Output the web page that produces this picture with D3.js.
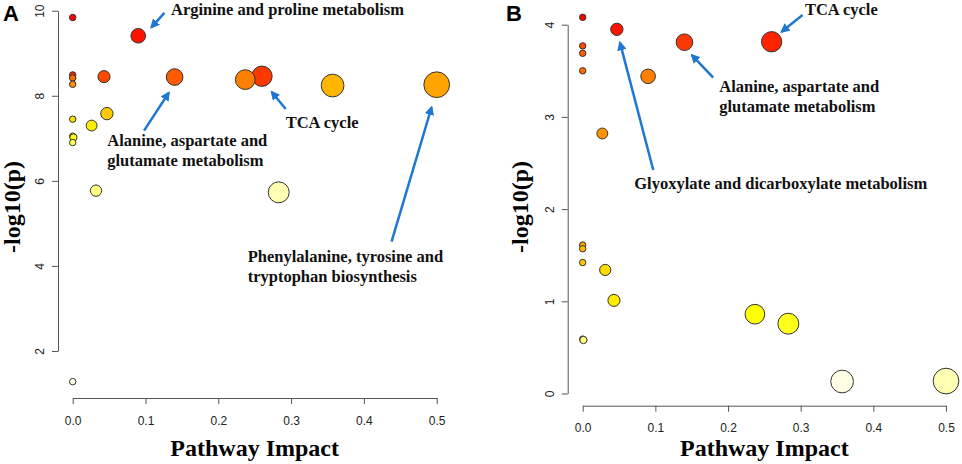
<!DOCTYPE html>
<html>
<head>
<meta charset="utf-8">
<script src="https://cdn.jsdelivr.net/npm/d3@7"></script>
<style>
    body { margin: 0; background: #fff; }
    svg { display: block; }
    .tick text { font-family: "Liberation Sans", Arial, sans-serif; font-size: 12px; fill: #222; }
    .axis path, .axis line { stroke: #555; stroke-width: 1; }
    .note { font-family: "Liberation Serif", "Times New Roman", serif; font-weight: bold; font-size: 16.5px; fill: #111; }
    .title { font-family: "Liberation Serif", "Times New Roman", serif; font-weight: bold; font-size: 24px; fill: #000; }
    .panel { font-family: "Liberation Sans", Arial, sans-serif; font-weight: bold; font-size: 22px; fill: #000; }
</style>
</head>
<body>
<div id="chart"></div>
<script>
// panel A: pathway impact and -log10(p)
var impactA = [0, 0.090, 0, 0, 0, 0.043, 0.140, 0.237, 0.260, 0.357, 0.500, 0, 0.026, 0.047, 0, 0.001, 0, 0.032, 0.283, 0];
var logpA = [9.84, 9.41, 8.49, 8.42, 8.27, 8.45, 8.44, 8.38, 8.46, 8.24, 8.26, 7.45, 7.30, 7.58, 7.05, 7.02, 6.90, 5.77, 5.73, 1.28];

// panel B
var impactB = [0, 0.047, 0, 0, 0, 0.140, 0.260, 0.090, 0.027, 0, 0, 0, 0.031, 0.043, 0.001, 0, 0.237, 0.283, 0.357, 0.500];
var logpB = [4.08, 3.95, 3.77, 3.69, 3.50, 3.81, 3.815, 3.44, 2.82, 1.61, 1.57, 1.42, 1.34, 1.01, 0.58, 0.59, 0.86, 0.757, 0.13, 0.135];

var xTicks = [0, 0.1, 0.2, 0.3, 0.4, 0.5];
var yTicksA = [2, 4, 6, 8, 10];
var yTicksB = [0, 1, 2, 3, 4];

// labelled pathways: text lines, text anchor and arrow (tail -> head), in data units
var notesA = [
    { lines: ["Arginine and proline metabolism"], at: [0.135, 9.91], from: [0.126, 9.95], to: [0.108, 9.61] },
    { lines: ["Alanine, aspartate and", "glutamate metabolism"], at: [0.0475, 6.83], from: [0.098, 7.18], to: [0.132, 8.07] },
    { lines: ["TCA cycle"], at: [0.2926, 7.235], from: [0.2926, 7.69], to: [0.2734, 8.09] },
    { lines: ["Phenylalanine, tyrosine and", "tryptophan biosynthesis"], at: [0.2404, 4.085], from: [0.438, 4.57], to: [0.493, 7.73] }
];
var notesB = [
    { lines: ["TCA cycle"], at: [0.3058, 4.11], from: [0.3026, 4.105], to: [0.2737, 3.924] },
    { lines: ["Alanine, aspartate and", "glutamate metabolism"], at: [0.1879, 3.273], from: [0.1796, 3.425], to: [0.1503, 3.671] },
    { lines: ["Glyoxylate and dicarboxylate metabolism"], at: [0.071, 2.22], from: [0.0971, 2.424], to: [0.0513, 3.805] }
];

var width = 962, height = 464;
var arrowColor = "#1f77d2";

var svg = d3.select("#chart").append("svg").attr("width", width).attr("height", height);

svg.append("defs").append("marker")
    .attr("id", "head")
    .attr("viewBox", "0 0 10 10")
    .attr("refX", 8).attr("refY", 5)
    .attr("markerWidth", 3.8).attr("markerHeight", 3.8)
    .attr("markerUnits", "strokeWidth")
    .attr("orient", "auto")
    .append("path").attr("d", "M0,0 L10,5 L0,10 z").attr("fill", arrowColor);

// R heat.colors(n)
function hsv(h, s, v) {
    var i = Math.floor(h * 6), f = h * 6 - i;
    var p = v * (1 - s), q = v * (1 - f * s), t = v * (1 - (1 - f) * s);
    var rgb = [[v, t, p], [q, v, p], [p, v, t], [p, q, v], [t, p, v], [v, p, q]][i % 6];
    return d3.rgb(rgb[0] * 255, rgb[1] * 255, rgb[2] * 255).formatHex();
}
function heatColors(n) {
    var j = Math.floor(n / 4), i = n - j, out = [];
    for (var k = 0; k < i; k++) out.push(hsv(i > 1 ? (1 / 6) * k / (i - 1) : 0, 1, 1));
    var s0 = 1 - 1 / (2 * j), s1 = 1 / (2 * j);
    for (k = 0; k < j; k++) out.push(hsv(1 / 6, j > 1 ? s0 + (s1 - s0) * k / (j - 1) : s0, 1));
    return out;
}

function drawPanel(cfg) {
    var x = d3.scaleLinear().domain([0, 0.5]).range(cfg.xRange);
    var y = d3.scaleLinear().domain(d3.extent(cfg.yTicks)).range(cfg.yRange);
    var g = svg.append("g");

    // y axis, labels turned along the axis like R
    g.append("g").attr("class", "axis")
        .attr("transform", "translate(" + cfg.yAxisX + ",0)")
        .call(d3.axisLeft(y).tickValues(cfg.yTicks).tickFormat(d3.format("d")).tickSize(6).tickSizeOuter(0))
        .selectAll(".tick text")
        .attr("transform", "rotate(-90)")
        .attr("text-anchor", "middle")
        .attr("x", 0).attr("y", -14).attr("dy", 0);

    g.append("g").attr("class", "axis")
        .attr("transform", "translate(0," + cfg.xAxisY + ")")
        .call(d3.axisBottom(x).tickValues(xTicks).tickFormat(d3.format(".1f")).tickSize(6).tickSizeOuter(0).tickPadding(12));

    // points: sorted by p, coloured by rank, radius from sqrt(impact)
    var pts = cfg.impact.map(function (d, i) { return { impact: d, logp: cfg.logp[i] }; });
    pts.sort(function (a, b) { return b.logp - a.logp; });
    var cols = heatColors(pts.length);
    var sq = pts.map(function (d) { return Math.sqrt(d.impact); });
    var minX = d3.min(sq), maxX = d3.max(sq);
    var maxR = (maxX - minX) / 40, minR = (maxX - minX) / 160;
    var px = x(1) - x(0);

    g.selectAll("circle.pt").data(pts).enter().append("circle")
        .attr("class", "pt")
        .attr("cx", function (d) { return x(d.impact); })
        .attr("cy", function (d) { return y(d.logp); })
        .attr("r", function (d, i) { return (minR + (maxR - minR) * (sq[i] - minX) / (maxX - minX)) * px; })
        .attr("fill", function (d, i) { return cols[i]; })
        .attr("stroke", "#333").attr("stroke-width", 1);

    cfg.notes.forEach(function (n) {
        g.append("line")
            .attr("x1", x(n.from[0])).attr("y1", y(n.from[1]))
            .attr("x2", x(n.to[0])).attr("y2", y(n.to[1]))
            .attr("stroke", arrowColor).attr("stroke-width", 2.5)
            .attr("marker-end", "url(#head)");
        var t = g.append("text").attr("class", "note")
            .attr("x", x(n.at[0])).attr("y", y(n.at[1]));
        n.lines.forEach(function (l, k) {
            t.append("tspan").attr("x", x(n.at[0])).attr("dy", k ? 20 : 0).text(l);
        });
    });

    g.append("text").attr("class", "title")
        .attr("text-anchor", "middle")
        .attr("x", (x(0) + x(0.5)) / 2).attr("y", 456)
        .text("Pathway Impact");

    g.append("text").attr("class", "title")
        .attr("text-anchor", "middle")
        .attr("transform", "translate(" + cfg.titleX + ",207) rotate(-90)")
        .text("-log10(p)");

    g.append("text").attr("class", "panel")
        .attr("x", cfg.panelX).attr("y", 21)
        .text(cfg.name);
}

drawPanel({
    name: "A", impact: impactA, logp: logpA, yTicks: yTicksA, notes: notesA,
    xRange: [72.7, 436.7], yRange: [351, 10.7], yAxisX: 58, xAxisY: 398, titleX: 20, panelX: 3
});
drawPanel({
    name: "B", impact: impactB, logp: logpB, yTicks: yTicksB, notes: notesB,
    xRange: [582.7, 946], yRange: [393.5, 24.7], yAxisX: 567.7, xAxisY: 405.7, titleX: 528, panelX: 506
});
</script>
</body>
</html>
